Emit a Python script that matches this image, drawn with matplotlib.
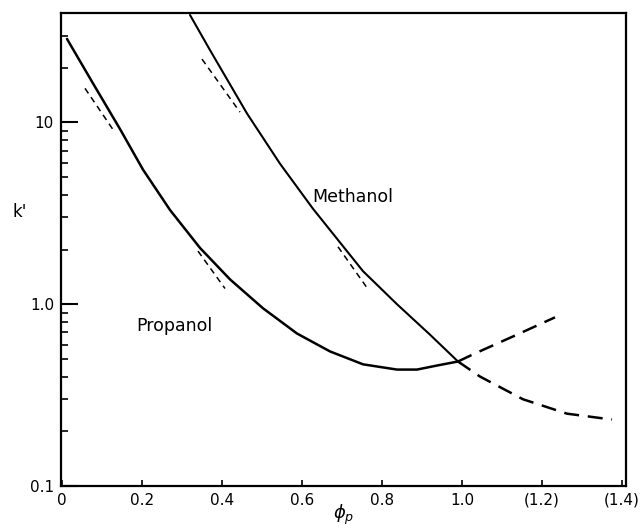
import matplotlib
matplotlib.use("Agg")
import matplotlib.pyplot as plt
from matplotlib.ticker import FixedLocator, LogLocator, NullFormatter

# values (phi_p, k')
propanol_x = [0.0125, 0.0775, 0.145, 0.2025, 0.27, 0.345, 0.42, 0.5025, 0.5875,
              0.67, 0.7525, 0.8375, 0.8875, 0.9375, 0.99]
propanol_k = [28.8, 16.4, 9.2, 5.5, 3.3, 2.04, 1.37, 0.95, 0.69,
              0.55, 0.467, 0.437, 0.437, 0.46, 0.484]
propanol_ext_x = [0.99, 1.0275, 1.1375, 1.2325]
propanol_ext_k = [0.484, 0.53, 0.68, 0.847]

methanol_x = [0.32, 0.37, 0.4625, 0.545, 0.6275, 0.7525, 0.8375, 0.92, 0.99]
methanol_k = [39.0, 25.0, 11.2, 5.93, 3.35, 1.52, 1.0, 0.68, 0.484]
methanol_ext_x = [0.99, 1.045, 1.1525, 1.2625, 1.375]
methanol_ext_k = [0.484, 0.40, 0.30, 0.25, 0.232]

# short thin dashed tangents (start, end)
tangents = [
    ([0.0575, 0.1325], [15.4, 8.8]),
    ([0.34, 0.4075], [1.96, 1.22]),
    ([0.35, 0.445], [22.3, 11.4]),
    ([0.69, 0.765], [2.07, 1.21]),
]

x_ticks = [0, 0.2, 0.4, 0.6, 0.8, 1.0, 1.2, 1.4]
x_labels = ["0", "0.2", "0.4", "0.6", "0.8", "1.0", "(1.2)", "(1.4)"]
y_ticks = [0.1, 1.0, 10]
y_labels = ["0.1", "1.0", "10"]

fig = plt.figure(figsize=(6.41, 5.30), dpi=100)
ax = fig.add_axes([61 / 641, 1 - 486 / 530, 565 / 641, 473 / 530])

ax.plot(propanol_x, propanol_k, color="black", lw=1.8, solid_capstyle="round")
ax.plot(propanol_ext_x, propanol_ext_k, color="black", lw=1.8, dashes=(6, 3.5))
ax.plot(methanol_x, methanol_k, color="black", lw=1.5, solid_capstyle="round")
ax.plot(methanol_ext_x, methanol_ext_k, color="black", lw=1.8, dashes=(6, 3.5))
for tx, tk in tangents:
    ax.plot(tx, tk, color="black", lw=1.1, dashes=(4, 3))

ax.set_yscale("log")
ax.set_xlim(-0.0025, 1.41)
ax.set_ylim(0.1, 40)

ax.xaxis.set_major_locator(FixedLocator(x_ticks))
ax.set_xticklabels(x_labels)
ax.yaxis.set_major_locator(FixedLocator(y_ticks))
ax.set_yticklabels(y_labels)
ax.yaxis.set_minor_locator(LogLocator(base=10, subs=range(2, 10)))
ax.yaxis.set_minor_formatter(NullFormatter())

ax.tick_params(axis="x", direction="in", length=4, width=1.2, labelsize=11, pad=5)
ax.tick_params(axis="y", which="major", direction="in", length=12, width=1.5,
               labelsize=11, pad=5)
ax.tick_params(axis="y", which="minor", direction="in", length=5, width=1.2)
for s in ax.spines.values():
    s.set_linewidth(1.6)

ax.text(0.625, 3.9, "Methanol", fontsize=12.5, ha="left", va="center")
ax.text(0.185, 0.76, "Propanol", fontsize=12.5, ha="left", va="center")
ax.set_xlabel(r"$\phi_p$", fontsize=13, labelpad=-4)
fig.text(12 / 641, 1 - 212 / 530, "k'", fontsize=12, ha="left", va="center")

fig.savefig("out.png", dpi=100)
